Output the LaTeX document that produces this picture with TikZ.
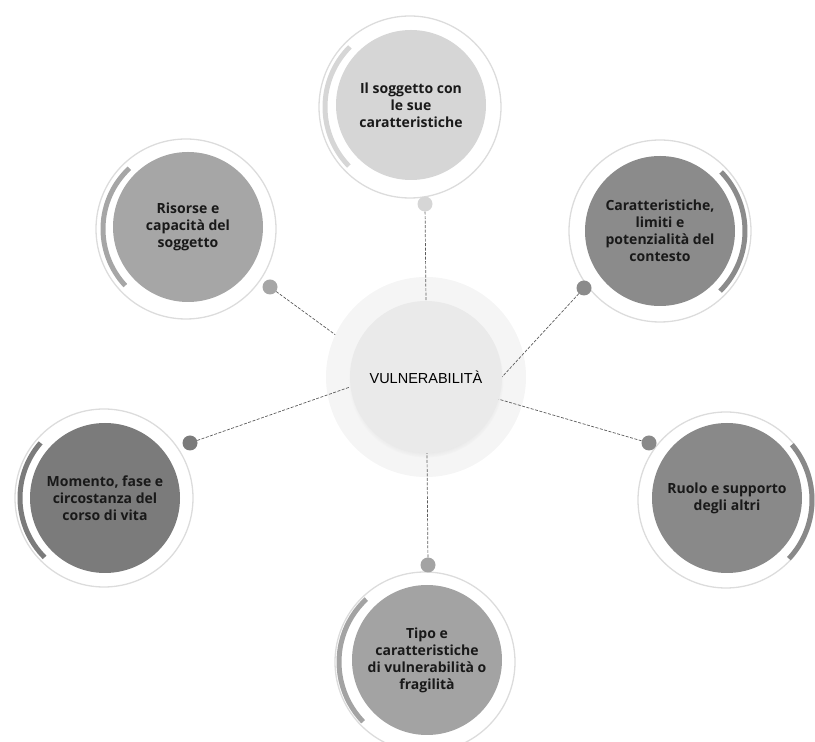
\documentclass[tikz,border=0pt]{standalone}
\usepackage{fontspec}
\usetikzlibrary{shadows}
\newfontfamily\hubfont{Liberation Sans}
\newfontfamily\topicfont{Open Sans}
\definecolor{halogray}{HTML}{F5F5F5}
\definecolor{hubgray}{HTML}{EAEAEA}
\definecolor{ringgray}{HTML}{DCDCDC}
\definecolor{linkgray}{HTML}{5C5C5C}
\definecolor{grayA}{HTML}{D6D6D6}
\definecolor{grayB}{HTML}{A6A6A6}
\definecolor{grayC}{HTML}{8B8B8B}
\definecolor{grayD}{HTML}{7B7B7B}
\definecolor{grayE}{HTML}{898989}
\definecolor{grayF}{HTML}{A3A3A3}
\tikzstyle{halo} = [circle, minimum size=200pt, inner sep=0pt, fill=halogray]
\tikzstyle{hub} = [circle, minimum size=152pt, inner sep=0pt, fill=hubgray, circular drop shadow={shadow xshift=0pt, shadow yshift=-3pt, opacity=0.2, shadow scale=1.02}, font=\hubfont\fontsize{14.5}{17}\selectfont]
\tikzstyle{topic} = [circle, minimum size=150pt, inner sep=0pt, align=center, text=black!90, font=\topicfont\bfseries\fontsize{14}{17}\selectfont]
\tikzstyle{dot} = [circle, minimum size=15pt, inner sep=0pt]
\tikzstyle{ring} = [draw=ringgray, line width=1.3pt]
\tikzstyle{band} = [line width=5pt]
\tikzstyle{link} = [draw=linkgray, dash pattern=on 3pt off 1.5pt, line width=0.7pt]

\begin{document}
\begin{tikzpicture}[x=1pt, y=1pt]
            \useasboundingbox (0,0) rectangle (815,742);
            % outer rings and bands
            \draw [ring] (410,635) circle (91);
            \draw [band, grayA] (410,635) ++(135:85) arc (135:224:85);
            \draw [ring] (186,513) circle (90);
            \draw [band, grayB] (186,513) ++(133:83) arc (133:223:83);
            \draw [ring] (660,511) circle (91);
            \draw [band, grayC] (660,511) ++(-45:85) arc (-45:44:85);
            \draw [ring] (104,244) circle (89);
            \draw [band, grayD] (104,244) ++(139:84) arc (139:225:84);
            \draw [ring] (726,242) circle (88);
            \draw [band, grayE] (726,242) ++(-43:86) arc (-43:40:86);
            \draw [ring] (425,80) circle (90);
            \draw [band, grayF] (425,80) ++(133:86) arc (133:224:86);
            % topics
            \node [topic, fill=grayA] at (411,637) (soggetto) {Il soggetto con\\le sue\\caratteristiche};
            \node [topic, fill=grayB] at (188,515) (risorse) {Risorse e\\capacità del\\soggetto};
            \node [topic, fill=grayC] at (660,511) (contesto) {Caratteristiche,\\limiti e\\potenzialità del\\contesto};
            \node [topic, fill=grayD] at (105,244) (momento) {Momento, fase e\\circostanza del\\corso di vita};
            \node [topic, fill=grayE] at (727,244) (altri) {Ruolo e supporto\\degli altri};
            \node [topic, fill=grayF] at (427,82) (tipo) {Tipo e\\caratteristiche\\di vulnerabilità o\\fragilità};
            % dots
            \node [dot, fill=grayA] at (425,538) (dotsoggetto) {};
            \node [dot, fill=grayB] at (270,455) (dotrisorse) {};
            \node [dot, fill=grayC] at (584,454) (dotcontesto) {};
            \node [dot, fill=grayD] at (190,299) (dotmomento) {};
            \node [dot, fill=grayE] at (649,299) (dotaltri) {};
            \node [dot, fill=grayF] at (428,177) (dottipo) {};
            % centre
            \node [halo] at (426,365) (halo) {};
            \draw [link] (dotsoggetto) -- (426,441);
            \draw [link] (dotrisorse) -- (halo.155);
            \draw [link] (dotcontesto) -- (502,365);
            \draw [link] (dotmomento) -- (350,355);
            \draw [link] (dotaltri) -- (498,343);
            \draw [link] (dottipo) -- (427,289);
            \node [hub] at (426,365) (hub) {VULNERABILITÀ};
\end{tikzpicture}
\end{document}
